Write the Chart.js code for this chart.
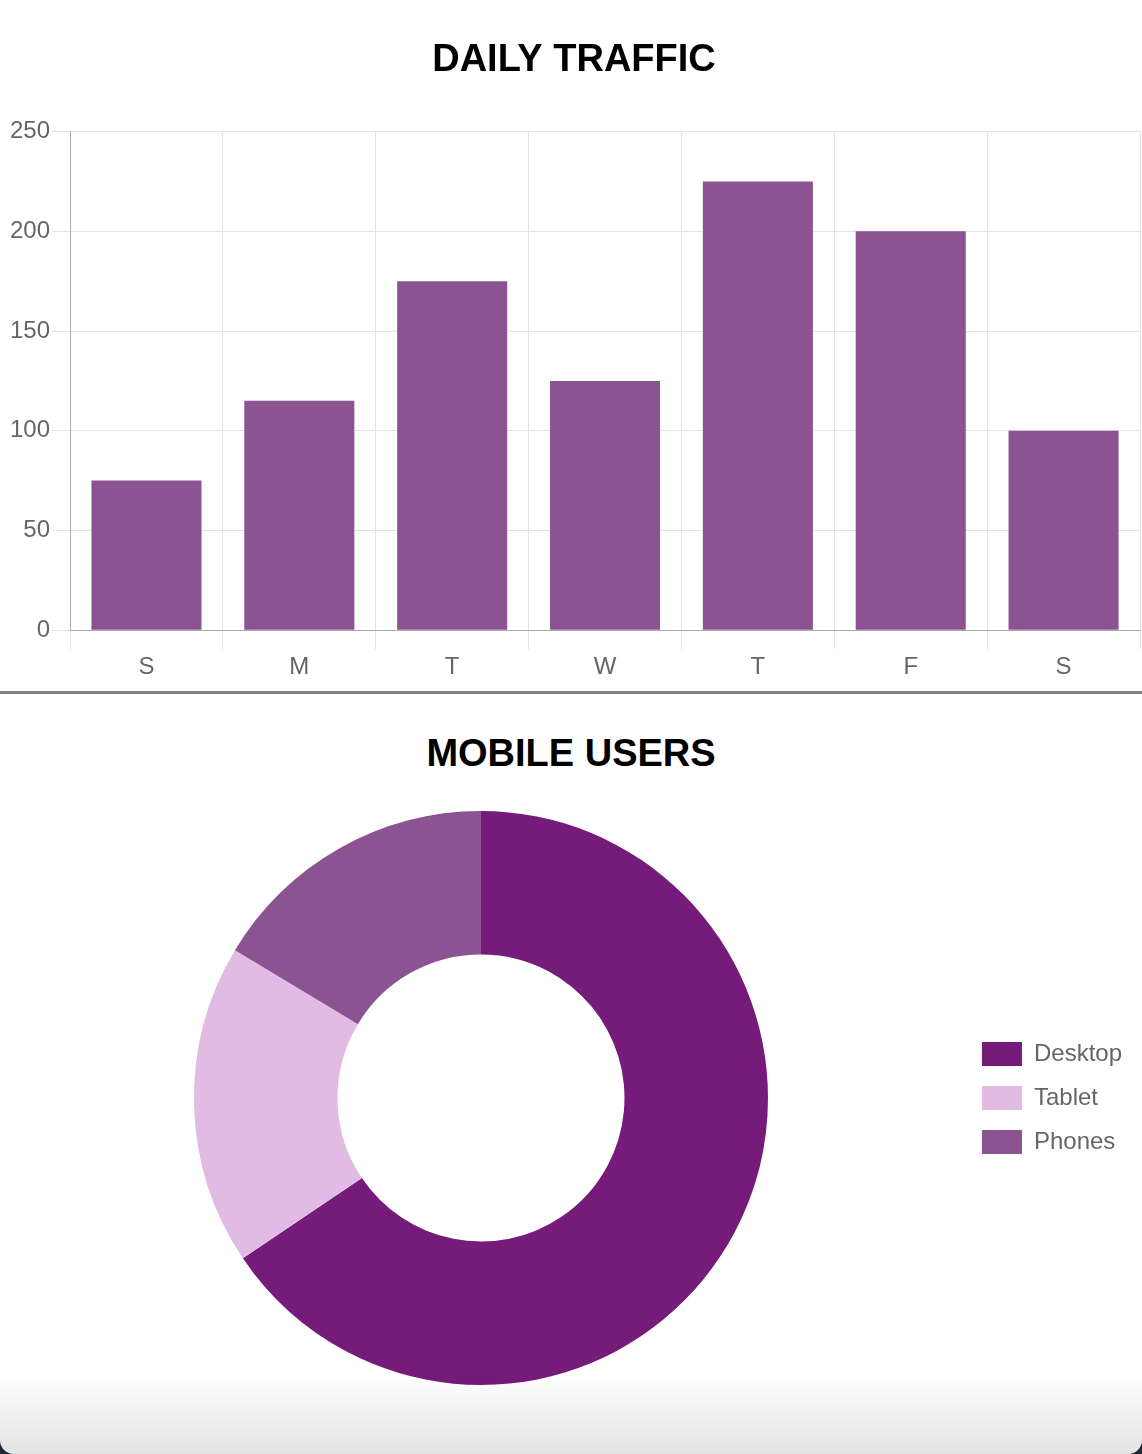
<!DOCTYPE html>
<html>
<head>
<meta charset="utf-8">
<script src="https://cdn.jsdelivr.net/npm/chart.js@4.4.1/dist/chart.umd.min.js"></script>
<style>
  html, body { margin: 0; padding: 0; background: #1e2838; }
  .card {
    width: 1142px; height: 1454px; background: #fff;
    border-radius: 0 0 14px 14px; overflow: hidden; position: relative;
  }
  .top { width: 1142px; height: 691px; position: relative; }
  .divider { height: 3px; background: #808080; }
  .chart-title {
    font-family: 'Liberation Sans', Arial, sans-serif;
    font-size: 38px; font-weight: bold; color: #000;
    text-align: center; line-height: 44px;
    height: 80px; padding-top: 37px; margin: 0;
  }
  .bottom { width: 1142px; height: 584px; position: relative; }
  .shade {
    position: absolute; left: 0; right: 0; bottom: 0; height: 80px;
    background: linear-gradient(to bottom, rgba(0,0,0,0) 0%, rgba(0,0,0,0.11) 100%);
    border-radius: 0 0 14px 14px;
  }
</style>
</head>
<body>
<div class="card">
  <div class="top"><canvas id="trafficChart"></canvas></div>
  <div class="divider"></div>
  <h2 class="chart-title">MOBILE USERS</h2>
  <div class="bottom"><canvas id="mobileChart"></canvas></div>
  <div class="shade"></div>
</div>
<script>
// 日別トラフィック
const days = ["S", "M", "T", "W", "T", "F", "S"];
const traffic = [75, 115, 175, 125, 225, 200, 100];
const trafficTicks = [0, 50, 100, 150, 200, 250];

// モバイルユーザー
const devices = ["Desktop", "Tablet", "Phones"];
const deviceUsers = [2000, 550, 500];
const deviceColors = ["#751b7a", "#e1bbe3", "#8c5393"];

Chart.defaults.font.family = "'Liberation Sans', Arial, sans-serif";
Chart.defaults.font.size = 24;
Chart.defaults.color = "#666";

new Chart(document.getElementById("trafficChart").getContext("2d"), {
  type: 'bar',
  data: {
    labels: days,
    datasets: [{
      data: traffic,
      backgroundColor: '#8c5393'
    }]
  },
  options: {
    responsive: true,
    maintainAspectRatio: false,
    animation: false,
    layout: { padding: { left: 8, right: 2, bottom: 5 } },
    plugins: {
      legend: { display: false },
      title: {
        display: true,
        text: "DAILY TRAFFIC",
        color: "#000",
        font: { size: 38, weight: "bold" },
        padding: { top: 38, bottom: 48 }
      },
      tooltip: { enabled: false }
    },
    scales: {
      x: {
        grid: { color: '#e2e2e2', tickLength: 19, tickColor: '#e2e2e2' },
        border: { color: '#aaa' },
        ticks: { padding: 4 }
      },
      y: {
        min: trafficTicks[0],
        max: trafficTicks[trafficTicks.length - 1],
        ticks: { stepSize: trafficTicks[1] - trafficTicks[0], padding: 2 },
        grid: { color: '#e2e2e2', tickLength: 18, tickColor: '#e2e2e2' },
        border: { color: '#aaa' }
      }
    }
  }
});

new Chart(document.getElementById("mobileChart").getContext("2d"), {
  type: 'doughnut',
  data: {
    labels: devices,
    datasets: [{
      data: deviceUsers,
      backgroundColor: deviceColors,
      borderWidth: 0
    }]
  },
  options: {
    responsive: true,
    maintainAspectRatio: false,
    animation: false,
    cutout: '50%',
    layout: { padding: { right: 10, bottom: 10, top: 0 } },
    plugins: {
      legend: {
        position: 'right',
        labels: { boxWidth: 40, padding: 20, color: '#666' }
      },
      tooltip: { enabled: false }
    }
  }
});
</script>
</body>
</html>
